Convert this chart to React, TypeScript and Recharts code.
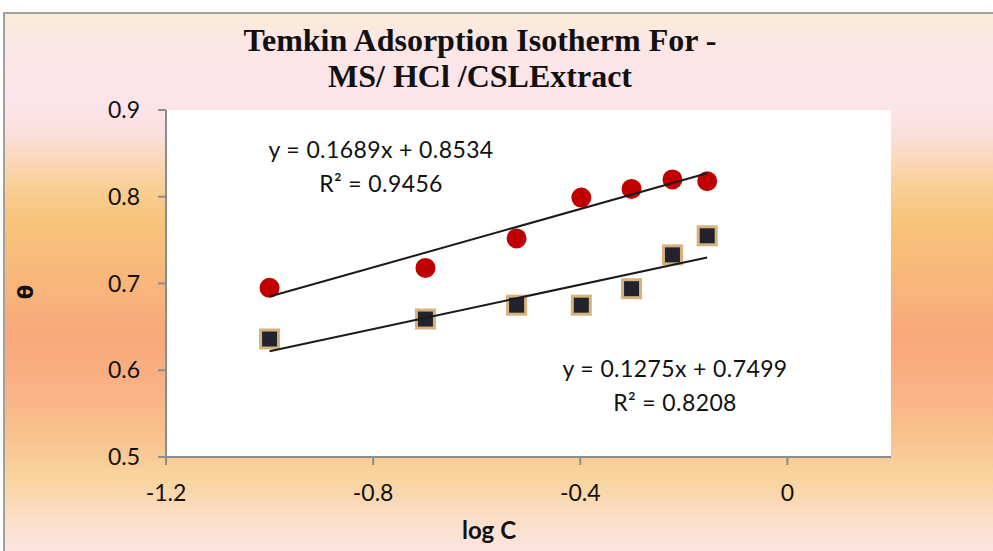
import React from "react";
import { CartesianGrid, Scatter, ScatterChart, XAxis, YAxis } from "recharts";

// log C values (log of 0.1 ... 0.7)
const logC = [-1.0, -0.699, -0.523, -0.398, -0.301, -0.222, -0.155];
const thetaRed = [0.695, 0.718, 0.752, 0.799, 0.809, 0.820, 0.818];
const thetaBlack = [0.636, 0.659, 0.675, 0.675, 0.694, 0.733, 0.755];

// trendline end points
const trendX = [-1.0, -0.155];
const trendRed = [0.685, 0.827];
const trendBlack = [0.622, 0.730];

const xTicks = [-1.2, -0.8, -0.4, 0];
const yTicks = [0.5, 0.6, 0.7, 0.8, 0.9];

const redEq = ["y = 0.1689x + 0.8534", "R² = 0.9456"];
const blackEq = ["y = 0.1275x + 0.7499", "R² = 0.8208"];

const toPoints = (xs: number[], ys: number[]) => xs.map((x, i) => ({ x, y: ys[i] }));

const redData = toPoints(logC, thetaRed);
const blackData = toPoints(logC, thetaBlack);
const redTrend = toPoints(trendX, trendRed);
const blackTrend = toPoints(trendX, trendBlack);

const tickFont = { fontFamily: "Lato, sans-serif", fontSize: 23, fill: "#111" };

const RedDot = (p: any) => (
  <circle cx={p.cx} cy={p.cy} r={11} fill="#c00000" stroke="#ffffff" strokeWidth={2} />
);

const BlackSquare = (p: any) => (
  <rect x={p.cx - 9} y={p.cy - 9} width={18} height={18} fill="#23232f" stroke="#d6b27c" strokeWidth={3} />
);

const NoDot = () => <g />;

const eqStyle: React.CSSProperties = {
  position: "absolute",
  fontFamily: "Lato, sans-serif",
  fontSize: 23,
  letterSpacing: 0.4,
  color: "#111",
  textAlign: "center",
  lineHeight: "34px",
  whiteSpace: "nowrap",
};

export default function App() {
  return (
    <div style={{ position: "relative", width: 993, height: 551, background: "#fff", overflow: "hidden" }}>
      <style>{`body{margin:0}`}</style>
      <div
        style={{
          position: "absolute",
          left: 3,
          top: 12,
          width: 995,
          height: 545,
          borderTop: "2px solid #a0a0a0",
          borderLeft: "2px solid #a0a0a0",
          background:
            "linear-gradient(180deg, #fbecd6 0px, #fbe6e6 30px, #fce4ea 90px, #fbe0dc 120px, #f9d09a 170px, #f7c47a 205px, #f8b67a 270px, #f9a87a 320px, #f9b084 370px, #f8c18e 420px, #f9d49e 465px, #fbe0cc 510px, #fde6e6 545px)",
        }}
      />
      <div
        style={{
          position: "absolute",
          left: 0,
          width: 960,
          top: 22,
          textAlign: "center",
          fontFamily: "'Liberation Serif', serif",
          fontWeight: "bold",
          fontSize: 32,
          lineHeight: "36px",
          color: "#111",
        }}
      >
        <div>Temkin Adsorption Isotherm For -</div>
        <div>MS/ HCl /CSLExtract</div>
      </div>
      <div style={{ position: "absolute", left: 0, top: 0 }}>
        <ScatterChart width={993} height={551} margin={{ top: 110, right: 102, bottom: 34, left: 106 }}>
          <CartesianGrid horizontal={false} vertical={false} fill="#ffffff" fillOpacity={1} stroke="none" />
          <XAxis
            type="number"
            dataKey="x"
            domain={[-1.2, 0.2]}
            ticks={xTicks}
            height={60}
            tick={tickFont}
            tickSize={8}
            tickMargin={20}
            stroke="#8c8c8c"
            strokeWidth={2}
            allowDataOverflow
            label={{
              value: "log C",
              content: () => (
                <text
                  x={489}
                  y={539}
                  textAnchor="middle"
                  fontFamily="Lato, sans-serif"
                  fontWeight="bold"
                  fontSize={24}
                  fill="#111"
                >
                  log C
                </text>
              ),
            }}
          />
          <YAxis
            type="number"
            dataKey="y"
            domain={[0.5, 0.9]}
            ticks={yTicks}
            width={60}
            tick={tickFont}
            tickSize={8}
            tickMargin={18}
            stroke="#8c8c8c"
            strokeWidth={2}
            allowDataOverflow
            label={{
              value: "θ",
              content: () => (
                <text
                  x={0}
                  y={0}
                  transform="translate(33 292) rotate(-90)"
                  textAnchor="middle"
                  fontFamily="'DejaVu Sans', sans-serif"
                  fontWeight="bold"
                  fontSize={21}
                  fill="#111"
                >
                  θ
                </text>
              ),
            }}
          />
          <Scatter data={blackData} shape={BlackSquare} isAnimationActive={false} />
          <Scatter data={redData} shape={RedDot} isAnimationActive={false} />
          <Scatter
            data={redTrend}
            shape={NoDot}
            line={{ stroke: "#1a1a1a", strokeWidth: 2 }}
            isAnimationActive={false}
          />
          <Scatter
            data={blackTrend}
            shape={NoDot}
            line={{ stroke: "#1a1a1a", strokeWidth: 2 }}
            isAnimationActive={false}
          />
        </ScatterChart>
      </div>
      <div style={{ ...eqStyle, left: 251, top: 132, width: 260 }}>
        <div>{redEq[0]}</div>
        <div>{redEq[1]}</div>
      </div>
      <div style={{ ...eqStyle, left: 545, top: 351, width: 260 }}>
        <div>{blackEq[0]}</div>
        <div>{blackEq[1]}</div>
      </div>
    </div>
  );
}
